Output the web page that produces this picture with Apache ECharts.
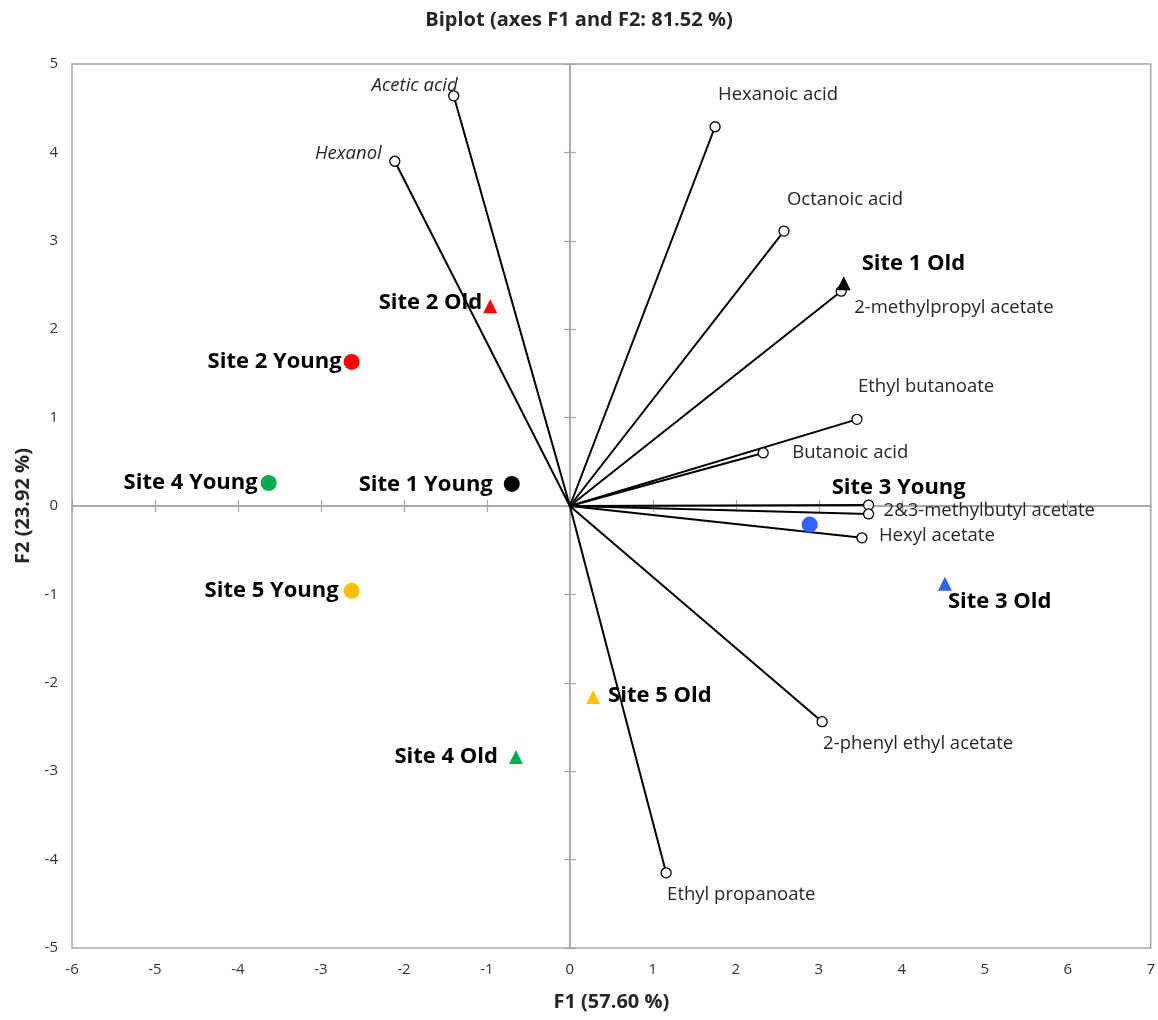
<!DOCTYPE html>
<html>
<head>
<meta charset="utf-8">
<title>Biplot (axes F1 and F2: 81.52 %)</title>
<script src="https://cdn.jsdelivr.net/npm/echarts@6/dist/echarts.min.js"></script>
<style>
  html, body { margin: 0; padding: 0; background: #ffffff; }
  #chart { width: 1158px; height: 1020px; }
</style>
</head>
<body>
<div id="chart"></div>
<script>
// Variable loadings (vectors from the origin)
const varNames = [
  'Acetic acid', 'Hexanol', 'Hexanoic acid', 'Octanoic acid',
  '2-methylpropyl acetate', 'Ethyl butanoate', 'Butanoic acid',
  '2&3-methylbutyl acetate', '2&3-methylbutyl acetate', 'Hexyl acetate',
  '2-phenyl ethyl acetate', 'Ethyl propanoate'
];
const varF1 = [-1.40, -2.11, 1.75, 2.58, 3.27, 3.46, 2.33, 3.60, 3.60, 3.52, 3.04, 1.16];
const varF2 = [ 4.64,  3.90, 4.29, 3.11, 2.43, 0.98, 0.60, 0.01, -0.09, -0.36, -2.44, -4.15];

// Observation scores
const obsNames = [
  'Site 1 Old', 'Site 2 Old', 'Site 2 Young', 'Site 4 Young', 'Site 1 Young',
  'Site 5 Young', 'Site 3 Young', 'Site 3 Old', 'Site 5 Old', 'Site 4 Old'
];
const obsF1 = [3.30, -0.96, -2.63, -3.63, -0.70, -2.63, 2.89, 4.52, 0.28, -0.65];
const obsF2 = [2.52,  2.26,  1.63,  0.26,  0.25, -0.96, -0.21, -0.88, -2.16, -2.84];

// Axis ranges and tick step
const f1Range = [-6, 7];
const f2Range = [-5, 5];
const tickStep = 1;

// ---- styling ----
const siteColors = {
  'Site 1': '#000000',
  'Site 2': '#FF0000',
  'Site 3': '#2F62FF',
  'Site 4': '#00B050',
  'Site 5': '#FFC000'
};

// label anchor: [align, dx, dy] from the marker centre
const varLabelPlace = {
  'Acetic acid': ['right', 4, -10],
  'Hexanol': ['right', -13, -8],
  'Hexanoic acid': ['left', 3, -32],
  'Octanoic acid': ['left', 3, -31],
  '2-methylpropyl acetate': ['left', 13, 17],
  'Ethyl butanoate': ['left', 1, -33],
  'Butanoic acid': ['left', 29, 0],
  '2&3-methylbutyl acetate': ['left', 15, 6],
  'Hexyl acetate': ['left', 17, -2],
  '2-phenyl ethyl acetate': ['left', 1, 22],
  'Ethyl propanoate': ['left', 1, 22]
};
const italicVars = ['Acetic acid', 'Hexanol'];

const obsLabelPlace = {
  'Site 1 Old': ['left', 18, -19],
  'Site 2 Old': ['right', -8, -3],
  'Site 2 Young': ['right', -10, 0],
  'Site 4 Young': ['right', -11, 0],
  'Site 1 Young': ['right', -19, 1],
  'Site 5 Young': ['right', -13, 0],
  'Site 3 Young': ['left', 22, -37],
  'Site 3 Old': ['left', 3, 18],
  'Site 5 Old': ['left', 15, -1],
  'Site 4 Old': ['right', -18, 0]
};

const labelFont = "'Open Sans', 'Noto Sans', sans-serif";
const axisGrey = '#A6A6A6';

// ---- vector series ----
const labelled = {};
const vectorSeries = varNames.map(function (name, i) {
  const place = varLabelPlace[name];
  const showLabel = !labelled[name];
  labelled[name] = true;
  return {
    type: 'line',
    name: name,
    z: 2,
    silent: true,
    lineStyle: { color: '#000000', width: 2 },
    symbol: 'circle',
    symbolSize: 10,
    itemStyle: { color: '#ffffff', borderColor: '#000000', borderWidth: 1.3, opacity: 1 },
    data: [
      { value: [0, 0], symbol: 'none' },
      {
        value: [varF1[i], varF2[i]],
        label: {
          show: showLabel,
          formatter: name,
          position: 'inside',
          align: place[0],
          verticalAlign: 'middle',
          offset: [place[1], place[2]],
          color: '#262626',
          fontSize: 18.5,
          fontFamily: labelFont,
          fontStyle: italicVars.indexOf(name) >= 0 ? 'italic' : 'normal'
        }
      }
    ]
  };
});

// ---- observation series ----
const obsSeries = {
  type: 'scatter',
  z: 5,
  silent: true,
  data: obsNames.map(function (name, i) {
    const site = name.split(' ').slice(0, 2).join(' ');
    const young = name.indexOf('Young') >= 0;
    const place = obsLabelPlace[name];
    return {
      value: [obsF1[i], obsF2[i]],
      symbol: young ? 'circle' : 'triangle',
      symbolSize: young ? 16 : 14,
      itemStyle: { color: siteColors[site], opacity: 1 },
      label: {
        show: true,
        formatter: name,
        position: 'inside',
        align: place[0],
        verticalAlign: 'middle',
        offset: [place[1], place[2]],
        color: '#000000',
        fontSize: 22,
        fontWeight: 'bold',
        fontFamily: labelFont
      }
    };
  })
};

// ---- axes ----
function labelAxis(range, extra) {
  return Object.assign({
    type: 'value',
    min: range[0],
    max: range[1],
    interval: tickStep,
    axisLine: { show: false },
    axisTick: { show: false },
    splitLine: { show: false },
    axisLabel: { color: '#333333', fontSize: 15, fontFamily: labelFont, margin: 14 },
    nameLocation: 'middle',
    nameTextStyle: { color: '#262626', fontSize: 20, fontWeight: 'bold', fontFamily: labelFont }
  }, extra);
}
function zeroAxis(range, inside) {
  return {
    type: 'value',
    min: range[0],
    max: range[1],
    interval: tickStep,
    axisLine: { show: true, onZero: true, lineStyle: { color: axisGrey, width: 1.5 } },
    axisTick: { show: true, inside: inside, length: 6, lineStyle: { color: axisGrey, width: 1.2 } },
    axisLabel: { show: false },
    splitLine: { show: false }
  };
}

const option = {
  animation: false,
  backgroundColor: '#ffffff',
  title: {
    text: 'Biplot (axes F1 and F2: 81.52 %)',
    left: 'center',
    top: 5,
    textStyle: { color: '#262626', fontSize: 20, fontWeight: 'bold', fontFamily: labelFont }
  },
  grid: {
    left: 72, right: 7, top: 64, bottom: 72,
    show: true,
    borderColor: axisGrey,
    borderWidth: 1.5,
    backgroundColor: 'transparent'
  },
  xAxis: [
    labelAxis(f1Range, { position: 'bottom', name: 'F1 (57.60 %)', nameGap: 44 }),
    zeroAxis(f1Range, false),
    zeroAxis(f1Range, true)
  ],
  yAxis: [
    labelAxis(f2Range, { position: 'left', name: 'F2 (23.92 %)', nameGap: 38 }),
    zeroAxis(f2Range, false),
    zeroAxis(f2Range, true)
  ],
  series: vectorSeries.concat([obsSeries])
};

const chart = echarts.init(document.getElementById('chart'), null, { renderer: 'canvas' });
chart.setOption(option);
</script>
</body>
</html>
